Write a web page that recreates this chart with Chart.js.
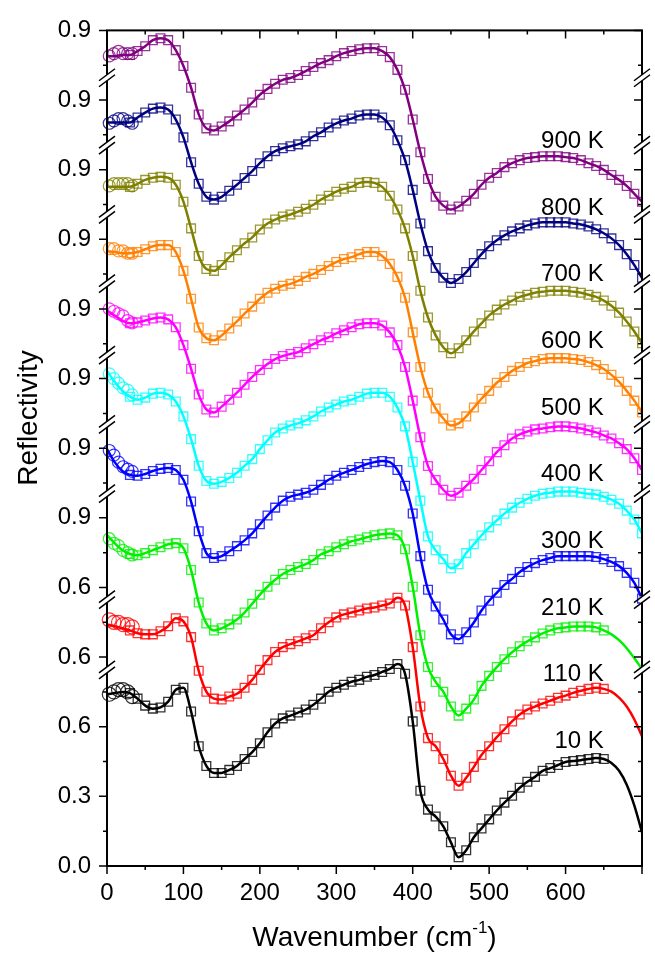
<!DOCTYPE html>
<html>
<head>
<meta charset="utf-8">
<title>Reflectivity vs wavenumber</title>
<script src="https://cdn.jsdelivr.net/npm/chart.js@4.4.1/dist/chart.umd.min.js"></script>
<style>
  html, body { margin: 0; padding: 0; background: #fff; }
  #wrap { width: 655px; height: 953px; }
</style>
</head>
<body>
<div id="wrap"><canvas id="chart" width="655" height="953"></canvas></div>
<script>
// x grid (cm-1)
const wavenumber = [0, 10, 20, 30, 40, 50, 60, 70, 80, 90,
  100, 110, 120, 130, 140, 150, 160, 170, 180, 190,
  200, 210, 220, 230, 240, 250, 260, 270, 280, 290,
  300, 310, 320, 330, 340, 350, 360, 370, 380, 390,
  400, 410, 420, 430, 440, 450, 460, 470, 480, 490,
  500, 510, 520, 530, 540, 550, 560, 570, 580, 590,
  600, 610, 620, 630, 640, 650, 660, 670, 680, 690, 700];

const temperatures = ['10 K', '110 K', '210 K', '300 K', '400 K', '500 K', '600 K', '700 K', '800 K', '900 K'];
const colors = ['#000000', '#FF0000', '#00F000', '#0000FF', '#00FFFF', '#FF00FF', '#FF8000', '#808000', '#000080', '#800080'];
// each spectrum is shifted up by this amount (broken axis)
const offsets = [0, 0.3, 0.6, 0.9, 1.2, 1.5, 1.8, 2.1, 2.4, 2.7];

// reflectivity, one value per wavenumber above
const r10K = [0.740, 0.745, 0.750, 0.745, 0.721, 0.691, 0.678, 0.683, 0.708, 0.759,
  0.768, 0.666, 0.516, 0.431, 0.401, 0.401, 0.414, 0.431, 0.461, 0.491,
  0.529, 0.576, 0.614, 0.636, 0.648, 0.661, 0.674, 0.695, 0.721, 0.751,
  0.768, 0.781, 0.794, 0.802, 0.815, 0.823, 0.836, 0.849, 0.870, 0.828,
  0.623, 0.324, 0.243, 0.213, 0.171, 0.102, 0.038, 0.068, 0.124, 0.162,
  0.201, 0.239, 0.273, 0.303, 0.337, 0.363, 0.384, 0.410, 0.422, 0.435,
  0.448, 0.452, 0.456, 0.461, 0.465, 0.461, 0.444, 0.410, 0.350, 0.260, 0.145];
const r110K = [0.741, 0.733, 0.724, 0.715, 0.703, 0.698, 0.698, 0.711, 0.733, 0.767,
  0.754, 0.686, 0.541, 0.451, 0.421, 0.417, 0.430, 0.442, 0.468, 0.502,
  0.545, 0.587, 0.622, 0.643, 0.656, 0.668, 0.681, 0.694, 0.724, 0.750,
  0.771, 0.784, 0.792, 0.801, 0.809, 0.814, 0.822, 0.831, 0.856, 0.822,
  0.643, 0.387, 0.251, 0.216, 0.161, 0.089, 0.046, 0.080, 0.127, 0.178,
  0.216, 0.255, 0.289, 0.323, 0.353, 0.374, 0.387, 0.400, 0.412, 0.425,
  0.434, 0.446, 0.455, 0.463, 0.468, 0.463, 0.451, 0.425, 0.387, 0.331, 0.259];
const r210K = [0.825, 0.791, 0.761, 0.744, 0.739, 0.748, 0.761, 0.773, 0.786, 0.791,
  0.769, 0.675, 0.535, 0.445, 0.415, 0.424, 0.441, 0.462, 0.492, 0.530,
  0.569, 0.603, 0.633, 0.658, 0.675, 0.688, 0.701, 0.718, 0.743, 0.756,
  0.773, 0.786, 0.799, 0.807, 0.816, 0.825, 0.829, 0.833, 0.825, 0.765,
  0.603, 0.394, 0.257, 0.193, 0.151, 0.087, 0.048, 0.078, 0.117, 0.176,
  0.219, 0.257, 0.291, 0.321, 0.347, 0.368, 0.385, 0.402, 0.415, 0.424,
  0.428, 0.432, 0.432, 0.432, 0.428, 0.415, 0.398, 0.373, 0.338, 0.295, 0.249];
const r300K = [0.896, 0.840, 0.802, 0.785, 0.781, 0.789, 0.802, 0.811, 0.815, 0.806,
  0.764, 0.670, 0.542, 0.448, 0.427, 0.435, 0.456, 0.478, 0.503, 0.533,
  0.572, 0.610, 0.644, 0.674, 0.691, 0.700, 0.708, 0.721, 0.742, 0.764,
  0.781, 0.794, 0.806, 0.819, 0.832, 0.840, 0.845, 0.840, 0.806, 0.738,
  0.619, 0.435, 0.290, 0.218, 0.162, 0.098, 0.077, 0.107, 0.149, 0.201,
  0.243, 0.277, 0.311, 0.337, 0.367, 0.388, 0.405, 0.418, 0.427, 0.435,
  0.435, 0.435, 0.435, 0.435, 0.431, 0.422, 0.410, 0.392, 0.363, 0.320, 0.252];
const r400K = [0.933, 0.886, 0.848, 0.822, 0.809, 0.818, 0.835, 0.839, 0.831, 0.801,
  0.737, 0.639, 0.524, 0.459, 0.447, 0.455, 0.472, 0.494, 0.524, 0.553,
  0.596, 0.634, 0.668, 0.685, 0.698, 0.707, 0.720, 0.737, 0.758, 0.775,
  0.788, 0.801, 0.809, 0.822, 0.835, 0.839, 0.839, 0.822, 0.775, 0.694,
  0.541, 0.374, 0.220, 0.160, 0.122, 0.083, 0.100, 0.148, 0.186, 0.224,
  0.259, 0.289, 0.318, 0.344, 0.365, 0.382, 0.395, 0.404, 0.408, 0.413,
  0.413, 0.413, 0.408, 0.404, 0.400, 0.391, 0.378, 0.361, 0.331, 0.293, 0.233];
const r500K = [0.893, 0.872, 0.850, 0.838, 0.842, 0.850, 0.859, 0.863, 0.855, 0.821,
  0.744, 0.642, 0.531, 0.467, 0.454, 0.479, 0.509, 0.539, 0.573, 0.607,
  0.637, 0.663, 0.684, 0.697, 0.706, 0.714, 0.731, 0.748, 0.765, 0.778,
  0.795, 0.808, 0.821, 0.834, 0.838, 0.838, 0.829, 0.799, 0.744, 0.650,
  0.505, 0.347, 0.223, 0.163, 0.121, 0.095, 0.108, 0.138, 0.168, 0.206,
  0.244, 0.283, 0.313, 0.342, 0.360, 0.372, 0.381, 0.385, 0.390, 0.394,
  0.394, 0.390, 0.385, 0.377, 0.368, 0.355, 0.342, 0.321, 0.296, 0.257, 0.206];
const r600K = [0.849, 0.845, 0.840, 0.840, 0.845, 0.857, 0.870, 0.875, 0.875, 0.845,
  0.764, 0.644, 0.520, 0.474, 0.465, 0.486, 0.516, 0.546, 0.580, 0.610,
  0.644, 0.670, 0.687, 0.700, 0.708, 0.721, 0.738, 0.751, 0.768, 0.785,
  0.802, 0.815, 0.823, 0.836, 0.845, 0.845, 0.828, 0.794, 0.738, 0.648,
  0.499, 0.350, 0.239, 0.171, 0.128, 0.098, 0.107, 0.137, 0.175, 0.213,
  0.247, 0.282, 0.307, 0.333, 0.350, 0.367, 0.375, 0.384, 0.388, 0.388,
  0.388, 0.384, 0.380, 0.371, 0.358, 0.341, 0.316, 0.286, 0.247, 0.205, 0.154];
const r700K = [0.826, 0.826, 0.826, 0.826, 0.839, 0.856, 0.865, 0.869, 0.865, 0.835,
  0.762, 0.647, 0.528, 0.472, 0.464, 0.489, 0.523, 0.553, 0.583, 0.608,
  0.642, 0.668, 0.685, 0.698, 0.707, 0.719, 0.732, 0.749, 0.771, 0.788,
  0.805, 0.818, 0.826, 0.843, 0.847, 0.843, 0.826, 0.788, 0.728, 0.647,
  0.528, 0.378, 0.263, 0.186, 0.135, 0.109, 0.131, 0.165, 0.203, 0.238,
  0.272, 0.297, 0.319, 0.336, 0.352, 0.361, 0.370, 0.374, 0.378, 0.378,
  0.378, 0.374, 0.370, 0.361, 0.352, 0.336, 0.314, 0.284, 0.246, 0.203, 0.152];
const r800K = [0.803, 0.803, 0.803, 0.803, 0.825, 0.846, 0.863, 0.868, 0.859, 0.816,
  0.739, 0.632, 0.539, 0.483, 0.471, 0.483, 0.509, 0.535, 0.564, 0.594,
  0.628, 0.658, 0.680, 0.692, 0.701, 0.709, 0.722, 0.744, 0.761, 0.782,
  0.799, 0.812, 0.820, 0.833, 0.838, 0.838, 0.825, 0.791, 0.727, 0.641,
  0.513, 0.368, 0.249, 0.176, 0.134, 0.112, 0.129, 0.159, 0.198, 0.236,
  0.270, 0.296, 0.317, 0.334, 0.347, 0.360, 0.368, 0.373, 0.373, 0.373,
  0.373, 0.368, 0.364, 0.355, 0.343, 0.326, 0.304, 0.275, 0.236, 0.189, 0.134];
const r900K = [0.789, 0.789, 0.794, 0.794, 0.811, 0.832, 0.858, 0.866, 0.858, 0.815,
  0.747, 0.653, 0.538, 0.478, 0.469, 0.486, 0.508, 0.533, 0.559, 0.589,
  0.623, 0.648, 0.670, 0.687, 0.695, 0.708, 0.725, 0.742, 0.759, 0.772,
  0.789, 0.802, 0.811, 0.819, 0.823, 0.823, 0.811, 0.785, 0.730, 0.644,
  0.516, 0.375, 0.260, 0.183, 0.145, 0.128, 0.141, 0.166, 0.196, 0.235,
  0.265, 0.286, 0.311, 0.328, 0.341, 0.350, 0.354, 0.358, 0.358, 0.358,
  0.354, 0.350, 0.341, 0.328, 0.316, 0.299, 0.277, 0.256, 0.230, 0.196, 0.162];
const spectra = [r10K, r110K, r210K, r300K, r400K, r500K, r600K, r700K, r800K, r900K];

// low frequency points (open circles)
const circleWn = [3, 9, 15, 21, 27, 33];
const c10K = [0.74, 0.75, 0.76, 0.76, 0.75, 0.73];
const c110K = [0.76, 0.75, 0.75, 0.74, 0.74, 0.73];
const c210K = [0.81, 0.79, 0.78, 0.76, 0.75, 0.74];
const c300K = [0.89, 0.87, 0.84, 0.82, 0.81, 0.80];
const c400K = [0.92, 0.90, 0.88, 0.86, 0.85, 0.83];
const c500K = [0.90, 0.89, 0.88, 0.87, 0.85, 0.84];
const c600K = [0.86, 0.86, 0.85, 0.85, 0.84, 0.84];
const c700K = [0.83, 0.84, 0.84, 0.84, 0.84, 0.83];
const c800K = [0.80, 0.81, 0.82, 0.82, 0.81, 0.80];
const c900K = [0.79, 0.80, 0.81, 0.80, 0.80, 0.80];
const circles = [c10K, c110K, c210K, c300K, c400K, c500K, c600K, c700K, c800K, c900K];

// squares only cover the measured range
const squareFrom = 30;
const squareTo = [650, 650, 650, 700, 700, 700, 700, 700, 700, 700];

const yTickLabels = ['0.0', '0.3', '0.6', '0.6', '0.6', '0.9', '0.9', '0.9', '0.9', '0.9', '0.9', '0.9', '0.9'];
const xTickLabels = ['0', '100', '200', '300', '400', '500', '600'];
// where the axis is cut (in plot units)
const axisBreaks = [0.845, 1.148, 1.604, 1.903, 2.201, 2.509, 2.807, 3.106, 3.396];

const FONT = "'Liberation Sans', Arial, sans-serif";

function fade(hex, a) {
  const n = parseInt(hex.slice(1), 16);
  return `rgba(${(n >> 16) & 255},${(n >> 8) & 255},${n & 255},${a})`;
}

const datasets = [];
spectra.forEach((r, i) => {
  const pts = wavenumber.map((w, j) => ({ x: w, y: offsets[i] + r[j] }));
  // fitted curve
  datasets.push({
    label: temperatures[i] + ' fit',
    data: pts,
    showLine: true,
    borderColor: colors[i],
    borderWidth: 2.5,
    pointRadius: 0,
    cubicInterpolationMode: 'monotone',
    order: 0
  });
  // measured points
  datasets.push({
    label: temperatures[i],
    data: pts.filter(p => p.x >= squareFrom && p.x <= squareTo[i]),
    showLine: false,
    pointStyle: 'rect',
    pointRadius: 6.2,
    pointBorderWidth: 1.3,
    borderColor: fade(colors[i], 0.8),
    backgroundColor: 'rgba(0,0,0,0)',
    order: 1
  });
  datasets.push({
    label: temperatures[i] + ' low',
    data: circleWn.map((w, j) => ({ x: w, y: offsets[i] + circles[i][j] })),
    showLine: false,
    pointStyle: 'circle',
    pointRadius: i < 2 ? 7 : 6,
    pointBorderWidth: 1.2,
    borderColor: fade(colors[i], 0.8),
    backgroundColor: 'rgba(0,0,0,0)',
    clip: false,
    order: 1
  });
});

// frame, ticks, axis breaks, temperature labels and axis titles
const decorPlugin = {
  id: 'decor',
  afterDraw(chart) {
    const { ctx, chartArea: a } = chart;
    const xs = chart.scales.x, ys = chart.scales.y;
    ctx.save();
    ctx.strokeStyle = '#000';
    ctx.lineWidth = 1.5;
    ctx.beginPath();
    for (let v = 0; v <= 700; v += 50) {
      const px = xs.getPixelForValue(v);
      const len = v % 100 === 0 ? 8 : 4;
      ctx.moveTo(px, a.bottom); ctx.lineTo(px, a.bottom + len);
      ctx.moveTo(px, a.top); ctx.lineTo(px, a.top + len);
    }
    for (let k = 0; k <= 24; k++) {
      const py = ys.getPixelForValue(k * 0.15);
      const len = k % 2 === 0 ? 8 : 4;
      ctx.moveTo(a.left - len, py); ctx.lineTo(a.left, py);
      ctx.moveTo(a.right - len, py); ctx.lineTo(a.right, py);
    }
    ctx.stroke();
    ctx.lineWidth = 2;
    ctx.strokeRect(a.left, a.top, a.right - a.left, a.bottom - a.top);

    // the // marks
    axisBreaks.forEach(b => {
      const py = ys.getPixelForValue(b);
      [a.left, a.right].forEach(cx => {
        ctx.fillStyle = '#fff';
        ctx.fillRect(cx - 2, py - 3, 4, 6);
        ctx.lineWidth = 1.5;
        ctx.beginPath();
        ctx.moveTo(cx - 8, py + 9); ctx.lineTo(cx + 8, py - 3);
        ctx.moveTo(cx - 8, py + 3); ctx.lineTo(cx + 8, py - 9);
        ctx.stroke();
      });
    });

    ctx.fillStyle = '#000';
    ctx.font = '24px ' + FONT;
    ctx.textAlign = 'right';
    ctx.textBaseline = 'middle';
    const lx = xs.getPixelForValue(650);
    temperatures.forEach((t, i) => {
      ctx.fillText(t, lx, ys.getPixelForValue(0.538 + i * 0.287));
    });

    // y title
    ctx.save();
    ctx.translate(29, 418);
    ctx.rotate(-Math.PI / 2);
    ctx.textAlign = 'center';
    ctx.font = '28px ' + FONT;
    ctx.fillText('Reflectivity', 0, 0);
    ctx.restore();

    // x title with superscript
    const main = 'Wavenumber (cm', sup = '-1', close = ')';
    ctx.textAlign = 'left';
    ctx.textBaseline = 'alphabetic';
    ctx.font = '28px ' + FONT;
    const w1 = ctx.measureText(main).width, w3 = ctx.measureText(close).width;
    ctx.font = '17px ' + FONT;
    const w2 = ctx.measureText(sup).width;
    let x0 = (a.left + a.right) / 2 - (w1 + w2 + w3) / 2;
    ctx.font = '28px ' + FONT;
    ctx.fillText(main, x0, 946);
    ctx.font = '17px ' + FONT;
    ctx.fillText(sup, x0 + w1, 933);
    ctx.font = '28px ' + FONT;
    ctx.fillText(close, x0 + w1 + w2, 946);
    ctx.restore();
  }
};

new Chart(document.getElementById('chart'), {
  type: 'scatter',
  data: { datasets },
  options: {
    responsive: false,
    animation: false,
    layout: { padding: { top: 22, right: 2, left: 0, bottom: 0 } },
    plugins: { legend: { display: false }, tooltip: { enabled: false } },
    scales: {
      x: {
        type: 'linear',
        min: 0,
        max: 700,
        afterFit: s => { s.height = 87; },
        grid: { display: false, drawTicks: false },
        border: { display: false },
        ticks: {
          stepSize: 100,
          padding: 13,
          color: '#000',
          font: { family: FONT, size: 24 },
          maxRotation: 0,
          callback: v => xTickLabels[Math.round(v / 100)] || ''
        }
      },
      y: {
        type: 'linear',
        min: 0,
        max: 3.6,
        afterFit: s => { s.width = 107; },
        grid: { display: false, drawTicks: false },
        border: { display: false },
        ticks: {
          stepSize: 0.3,
          padding: 16,
          color: '#000',
          font: { family: FONT, size: 24 },
          callback: (v, i) => yTickLabels[i]
        }
      }
    }
  },
  plugins: [decorPlugin]
});
</script>
</body>
</html>
